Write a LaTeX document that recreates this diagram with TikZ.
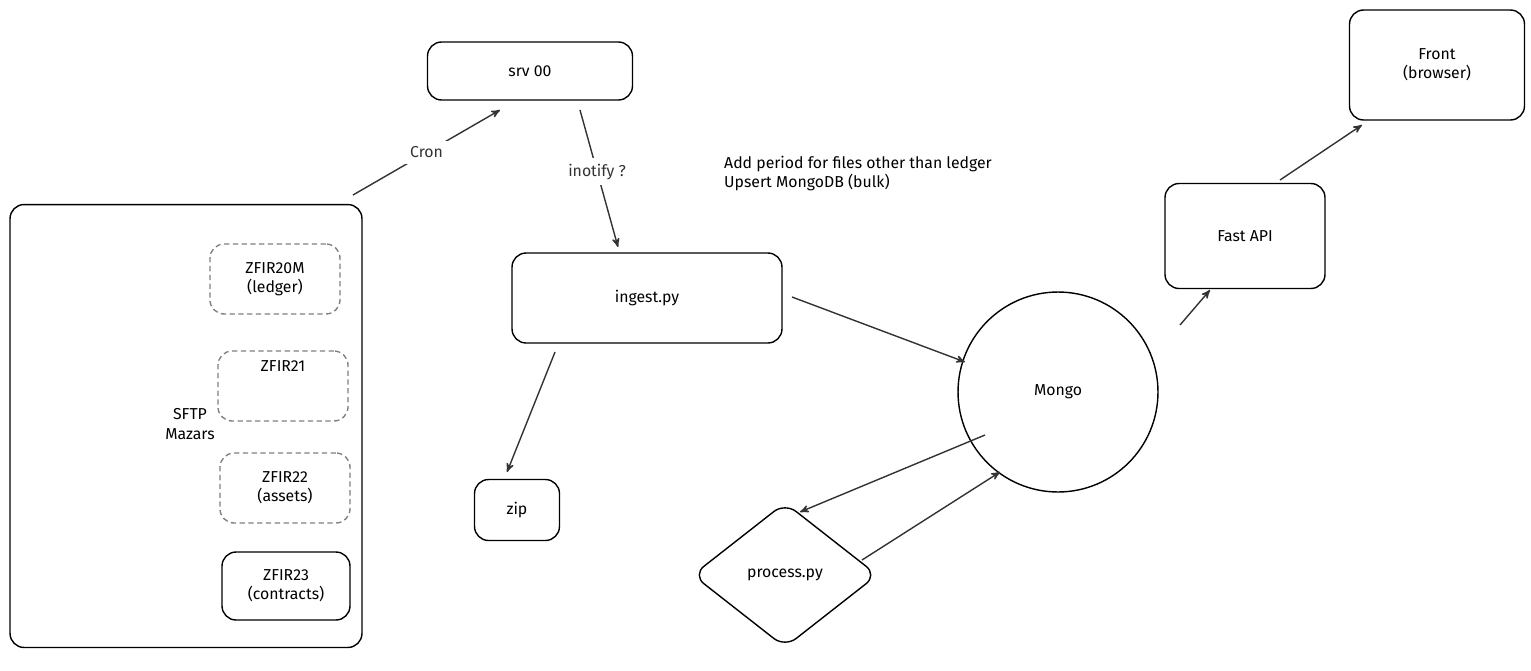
\documentclass[tikz,border=0pt]{standalone}
\usepackage{fontspec}
\setmainfont{Fira Sans}
\usetikzlibrary{positioning, arrows, shapes.geometric}
\begin{document}
\begin{tikzpicture}[x=0.02cm, y=-0.02cm, font=\small]
\tikzstyle{block}=[draw, rectangle, rounded corners=8pt, thick, text centered, align=center]
\tikzstyle{file}=[block, draw=gray, densely dashed, minimum width=2.6cm, minimum height=1.4cm]
\tikzstyle{flow}=[draw, ->, thick, >=stealth', gray!40!black]
\useasboundingbox (0,0) rectangle (1531,670);

\node[block, minimum width=7.04cm, minimum height=8.86cm](sftp) at (186,426){};
\node[file](z20m) at (275,279){ZFIR20M\\(ledger)};
\node[file](z21) at (283,386){ZFIR21\\[4mm]};
\node[file](z22) at (285,488){ZFIR22\\(assets)};
\node[block, minimum width=2.56cm, minimum height=1.36cm](z23) at (286,586){ZFIR23\\(contracts)};
\node[align=center](sftplbl) at (190,424){SFTP\\Mazars};

\node[block, minimum width=4.1cm, minimum height=1.16cm](srv) at (530,71){srv 00};
\node[block, minimum width=5.4cm, minimum height=1.8cm](ingest) at (647,298){ingest.py};
\node[block, minimum width=1.7cm, minimum height=1.22cm](zip) at (517,510){zip};
\node[draw, circle, thick, minimum size=4cm](mongo) at (1058,392){Mongo};
\node[draw, diamond, thick, rounded corners=8pt, minimum width=3.7cm, minimum height=2.9cm](proc) at (785,575){process.py};
\node[block, minimum width=3.2cm, minimum height=2.1cm](api) at (1245,236){Fast API};
\node[block, minimum width=3.5cm, minimum height=2.2cm](front) at (1437,65){Front\\(browser)};
\node[align=left, anchor=north west](note) at (718,150){Add period for files other than ledger\\Upsert MongoDB (bulk)};

% connector ends
\coordinate (cronA) at (353,195);
\coordinate (cronB) at (500,110);
\coordinate (inoA) at (580,110);
\coordinate (inoB) at (618,247);
\coordinate (ingA) at (792,297);
\coordinate (ingB) at (965,362);
\coordinate (zipA) at (555,352);
\coordinate (zipB) at (507,472);
\coordinate (moA) at (985,435);
\coordinate (moB) at (800,512);
\coordinate (prA) at (862,560);
\coordinate (prB) at (1000,472);
\coordinate (apA) at (1180,325);
\coordinate (apB) at (1210,290);
\coordinate (frA) at (1280,180);
\coordinate (frB) at (1362,125);

\draw[flow](cronA) -- node[fill=white]{Cron} (cronB);
\draw[flow](inoA) -- node[fill=white, pos=0.45]{inotify ?} (inoB);
\draw[flow](ingA) -- (ingB);
\draw[flow](zipA) -- (zipB);
\draw[flow](moA) -- (moB);
\draw[flow](prA) -- (prB);
\draw[flow](apA) -- (apB);
\draw[flow](frA) -- (frB);
\end{tikzpicture}
\end{document}
